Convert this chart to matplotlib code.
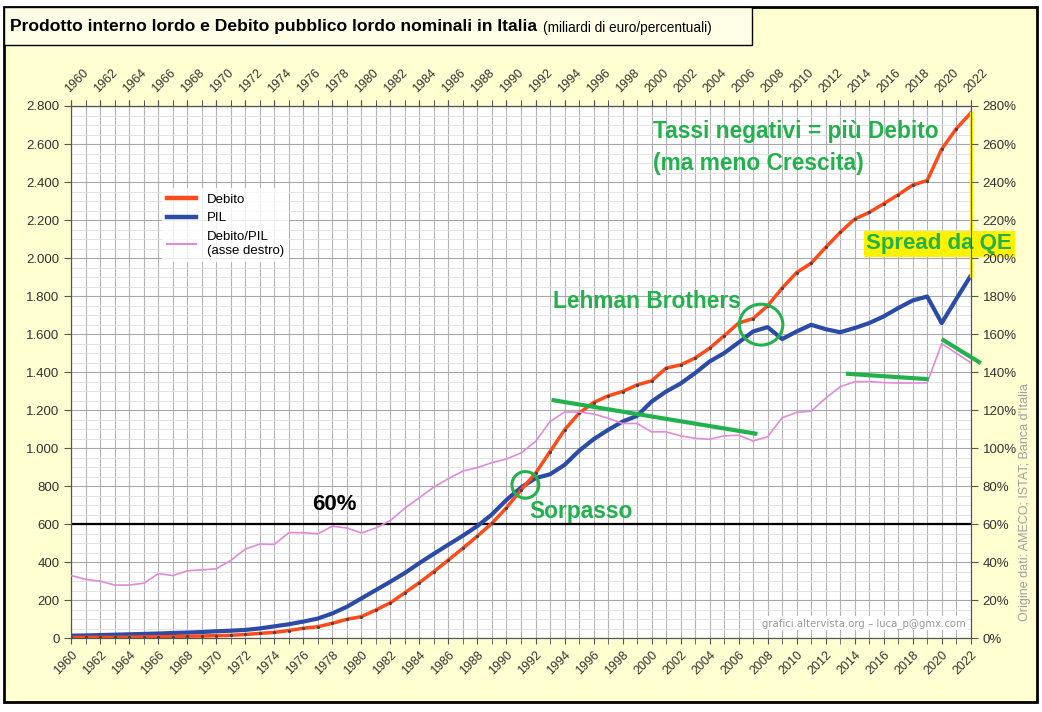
"""Prodotto interno lordo e Debito pubblico lordo nominali in Italia, 1960-2022."""

import matplotlib
matplotlib.use("Agg")
import matplotlib.pyplot as plt
from matplotlib.patches import Ellipse, Rectangle
from matplotlib.lines import Line2D

W, H = 1042, 712

years = list(range(1960, 2023))

debito = [
    5, 5, 5, 5, 6, 7, 8, 9, 11, 12,
    14, 16, 20, 26, 31, 41, 53, 61, 79, 100,
    114, 149, 187, 240, 293, 351, 412, 474, 538, 605,
    687, 780, 868, 982, 1096, 1184, 1240, 1275, 1298, 1333,
    1354, 1421, 1438, 1474, 1526, 1591, 1658, 1682, 1749, 1842,
    1924, 1973, 2056, 2135, 2205, 2240, 2286, 2333, 2384, 2408,
    2573, 2680, 2763,
]

pil = [
    14, 15, 17, 19, 21, 23, 25, 28, 30, 33,
    37, 40, 44, 52, 63, 74, 88, 104, 131, 166,
    210, 254, 298, 344, 396, 445, 493, 540, 591, 652,
    728, 793, 842, 863, 912, 986, 1047, 1096, 1140, 1170,
    1245, 1298, 1340, 1395, 1456, 1500, 1556, 1614, 1637, 1574,
    1614, 1649, 1626, 1610, 1632, 1658, 1693, 1737, 1777, 1798,
    1658, 1784, 1907,
]

rapporto = [
    33, 31, 30, 28, 28, 29, 34, 33, 35.5, 36,
    36.6, 41, 47, 49.6, 49.4, 55.6, 55.5, 55, 59, 58,
    55.4, 58, 62, 68.5, 74, 79.6, 84, 88, 89.8, 92.4,
    94.3, 97.5, 103.5, 114, 119, 119, 118, 115.8, 113, 113,
    108.6, 108.6, 106.5, 105.2, 104.7, 106.5, 106.8, 103.8, 106, 116,
    118.8, 119.5, 126.3, 132.3, 135, 135, 134.5, 134.3, 134.3, 134.4,
    155, 150, 145,
]

year_ticks = list(range(1960, 2023, 2))
left_ticks = list(range(0, 2801, 200))
right_ticks = list(range(0, 281, 20))
soglia = 600  # 60% line

# green trend segments (on the % axis)
trend_x = [[1993.1, 2007.3], [2013.4, 2019.1], [2020.0, 2022.7]]
trend_y = [[125.4, 107.5], [139.2, 136.3], [157.4, 144.7]]

RED = "#ff4a1a"
BLUE = "#2b4ba6"
PINK = "#e08ad8"
GREEN = "#22b14c"
BG = "#ffffd2"


def px(x, y):
    return x / W, 1 - y / H


def main() -> None:
    plt.rcParams["font.family"] = ["Liberation Sans", "DejaVu Sans"]
    fig = plt.figure(figsize=(W / 100, H / 100), dpi=100)
    fig.patch.set_facecolor("white")

    # outer frame and title box
    fig.add_artist(Rectangle(px(4, 702), 1033 / W, 695 / H, transform=fig.transFigure,
                             facecolor=BG, edgecolor="black", lw=2, zorder=-2))
    fig.add_artist(Rectangle(px(4, 45), 748 / W, 38 / H, transform=fig.transFigure,
                             facecolor="#ffffe8", edgecolor="black", lw=1, zorder=-1))
    t = fig.text(*px(10, 27), "Prodotto interno lordo e Debito pubblico lordo nominali in Italia",
                 fontsize=12.6, fontweight="bold", va="center", ha="left")
    fig.canvas.draw()
    bb = t.get_window_extent()
    fig.text((bb.x1 + 6) / W, 1 - 28 / H, "(miliardi di euro/percentuali)",
             fontsize=9.8, va="center", ha="left")

    ax = fig.add_axes([71.3 / W, 1 - 638.3 / H, 899.4 / W, 532.3 / H])
    ax.set_facecolor("white")
    ax.set_xlim(1960, 2022)
    ax.set_ylim(0, 2800)

    ax.set_xticks(year_ticks)
    ax.set_xticks(years, minor=True)
    ax.set_xticklabels([str(y) for y in year_ticks], rotation=45, ha="right",
                       rotation_mode="anchor", fontsize=9, color="#333")
    ax.set_yticks(left_ticks)
    ax.set_yticks(range(0, 2801, 50), minor=True)
    ax.set_yticklabels([f"{v:,}".replace(",", ".") for v in left_ticks],
                       fontsize=9.5, color="#333")
    ax.tick_params(axis="x", which="both", length=4, color="#555", top=True)
    ax.tick_params(axis="y", which="major", length=5, color="#555")
    ax.tick_params(axis="y", which="minor", length=0)

    top = ax.secondary_xaxis("top")
    top.set_xticks(year_ticks)
    top.set_xticks(years, minor=True)
    top.set_xticklabels([str(y) for y in year_ticks], rotation=45, ha="left",
                        rotation_mode="anchor", fontsize=9, color="#333")
    top.tick_params(axis="x", which="both", length=4, color="#555")
    top.spines["top"].set_color("#555")

    ax.grid(axis="x", which="both", color="#b4b4b4", lw=0.8)
    ax.grid(axis="y", which="major", color="#a8a8a8", lw=0.8)
    ax.grid(axis="y", which="minor", color="#dedede", lw=0.6)
    ax.set_axisbelow(True)
    for s in ax.spines.values():
        s.set_color("#555")

    ax.axhline(soglia, color="black", lw=1.6, zorder=3)
    ax.plot(years, pil, color=BLUE, lw=3, zorder=4, solid_capstyle="round")
    ax.plot(years, debito, color=RED, lw=2.5, zorder=5, marker=".", ms=2.5,
            mfc="#444", mec="#444")

    ax2 = ax.twinx()
    ax2.set_ylim(0, 280)
    ax2.set_yticks(right_ticks)
    ax2.set_yticklabels([f"{v}%" for v in right_ticks], fontsize=9.5, color="#333")
    ax2.tick_params(axis="y", length=5, color="#555")
    for s in ax2.spines.values():
        s.set_color("#555")
    ax2.plot(years, rapporto, color=PINK, lw=1.2, zorder=3)

    for xs, ys in zip(trend_x, trend_y):
        ax2.plot(xs, ys, color=GREEN, lw=3, solid_capstyle="butt", clip_on=False, zorder=6)

    # circles
    ax.add_patch(Ellipse((1991.3, 807), 1.85, 140, fill=False, ec=GREEN, lw=2.2, zorder=7))
    ax.add_patch(Ellipse((2007.55, 1650), 3.0, 215, fill=False, ec=GREEN, lw=2.2, zorder=7))

    # yellow QE spread bar
    ax.plot([2022.05, 2022.05], [pil[-1], debito[-1]], color="#ffee00", lw=2.4,
            clip_on=False, zorder=6)

    txt = dict(color=GREEN, fontsize=16.4, fontweight="bold", va="center", ha="left")
    ax.text(2000.1, 2666, "Tassi negativi = più Debito", zorder=8, **txt)
    ax.text(2000.1, 2500, "(ma meno Crescita)", zorder=8, **txt)
    ax.text(1993.2, 1770, "Lehman Brothers", zorder=8, **txt)
    ax.text(1991.6, 665, "Sorpasso", zorder=8, **txt)
    ax.text(2019.84, 2075, "Spread da QE", color=GREEN, fontsize=16, fontweight="bold",
            va="center", ha="center", zorder=9, clip_on=False,
            bbox=dict(boxstyle="square,pad=0.12", fc="#fff200", ec="none"))
    ax.text(1976.6, 702, "60%", color="black", fontsize=16, fontweight="bold",
            va="center", ha="left", zorder=8)

    handles = [Line2D([], [], color=RED, lw=3.2), Line2D([], [], color=BLUE, lw=3.2),
               Line2D([], [], color=PINK, lw=1.5)]
    leg = ax2.legend(handles, ["Debito", "PIL", "Debito/PIL\n(asse destro)"],
                     loc="upper left", bbox_to_anchor=px(162, 188),
                     bbox_transform=fig.transFigure, fontsize=9.5, frameon=True,
                     fancybox=False, handlelength=2.2, labelspacing=0.5,
                     borderaxespad=0, borderpad=0.4)
    leg.get_frame().set_facecolor("white")
    leg.get_frame().set_edgecolor("none")

    ax2.text(0.995, 0.018, "grafici.altervista.org \u2013 luca_p@gmx.com", transform=ax2.transAxes,
             fontsize=7.3, color="#999", ha="right", va="bottom", family="DejaVu Sans",
             bbox=dict(boxstyle="square,pad=0.15", fc="white", ec="none"), zorder=8)
    fig.text(*px(1025, 502), "Origine dati: AMECO; ISTAT; Banca d'Italia", rotation=90,
             fontsize=9, color="#a0a0a0", ha="center", va="center")

    fig.savefig("out.png", dpi=100)


if __name__ == "__main__":
    main()
